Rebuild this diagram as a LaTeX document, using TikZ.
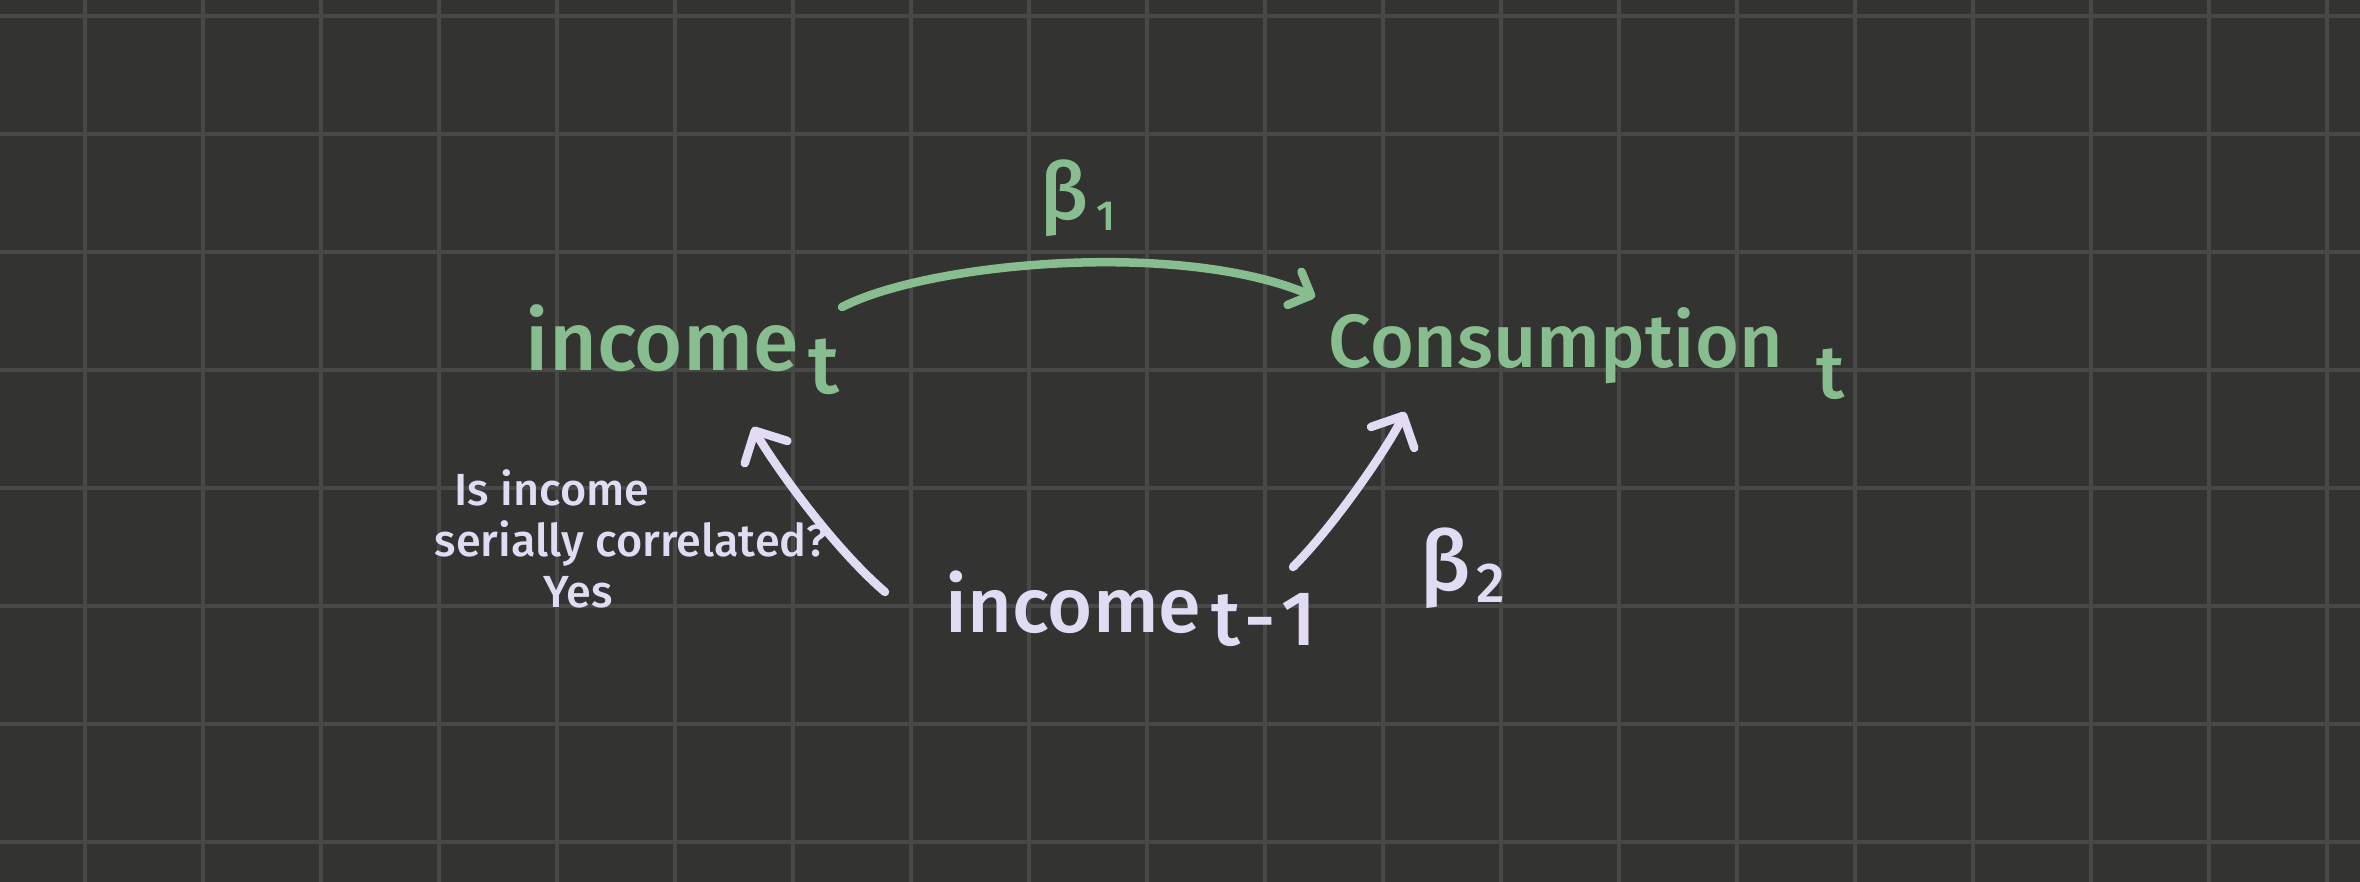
\documentclass[tikz,border=0pt]{standalone}
\usepackage{fontspec}
\setmainfont{Fira Sans}[UprightFont=* Medium]
\definecolor{board}{HTML}{333331}
\definecolor{boardline}{HTML}{484847}
\definecolor{chalkgreen}{HTML}{88BE8F}
\definecolor{chalklilac}{HTML}{E1DCF4}
\usetikzlibrary{calc, arrows.meta}

\begin{document}
\begin{tikzpicture}[
  x=0.01cm, y=-0.01cm,
  gridline/.style={draw=boardline, line width=0.04cm},
  arrow/.style={-{Straight Barb[round, length=2.4mm, width=4.8mm]}, line width=0.085cm,
                line cap=round, line join=round},
  grn/.style={text=chalkgreen, inner sep=0pt, anchor=base west},
  lil/.style={text=chalklilac, inner sep=0pt, anchor=base west},
]

% --- Board and grid ---
\useasboundingbox (0,0) rectangle (2360,882);
\fill[board] (0,0) rectangle (2360,882);
\foreach \gx in {85,203,...,2327} \draw[gridline] (\gx,0) -- (\gx,882);
\foreach \gy in {16,134,...,842} \draw[gridline] (0,\gy) -- (2360,\gy);

% --- Variables ---
\node[grn, font=\fontsize{23.5}{28}\selectfont] (inct) at (525,370) {income\hspace{0.1cm}\raisebox{-0.23cm}{t}};
\node[grn, font=\fontsize{21.4}{26}\selectfont] (cons) at (1328,367) {Consumption\hspace{0.34cm}\raisebox{-0.31cm}{t}};
\node[lil, font=\fontsize{22}{26}\selectfont] (inc1) at (945,632) {income\hspace{0.1cm}\raisebox{-0.13cm}{t\hspace{0.04cm}-\hspace{0.06cm}1}};

% --- Coefficients ---
\node[grn, font=\fontsize{22.5}{26}\selectfont] (b1) at (1040,220) {β\hspace{0.08cm}\raisebox{-0.1cm}{\fontsize{12}{14}\selectfont 1}};
\node[lil, font=\fontsize{23.6}{28}\selectfont] (b2) at (1420,590) {β\hspace{0.06cm}\raisebox{-0.12cm}{\fontsize{16}{18}\selectfont 2}};

% --- Side note ---
\node[lil, anchor=north west, align=left, font=\fontsize{12.8}{14.5}\selectfont] (note) at (434,469)
  {\hspace*{0.2cm}Is income\\serially correlated?\\\hspace*{1.09cm}Yes};

% --- Arrows ---
\draw[arrow, chalkgreen, -{Straight Barb[round, length=1.8mm, width=3.6mm]}]
  ([shift={(317,-63)}]inct.base west) .. controls +(88,-45) and +(-135,-57) .. ([shift={(-13,-70)}]cons.base west);
\draw[arrow, chalklilac]
  ([shift={(-60,-40)}]inc1.base west) .. controls +(-60,-52) and +(12,23) .. ([shift={(228,57)}]inct.base west);
\draw[arrow, chalklilac]
  ([shift={(348,-65)}]inc1.base west) .. controls +(40,-40) and +(-18,37) .. ([shift={(77,45)}]cons.base west);

\end{tikzpicture}
\end{document}
